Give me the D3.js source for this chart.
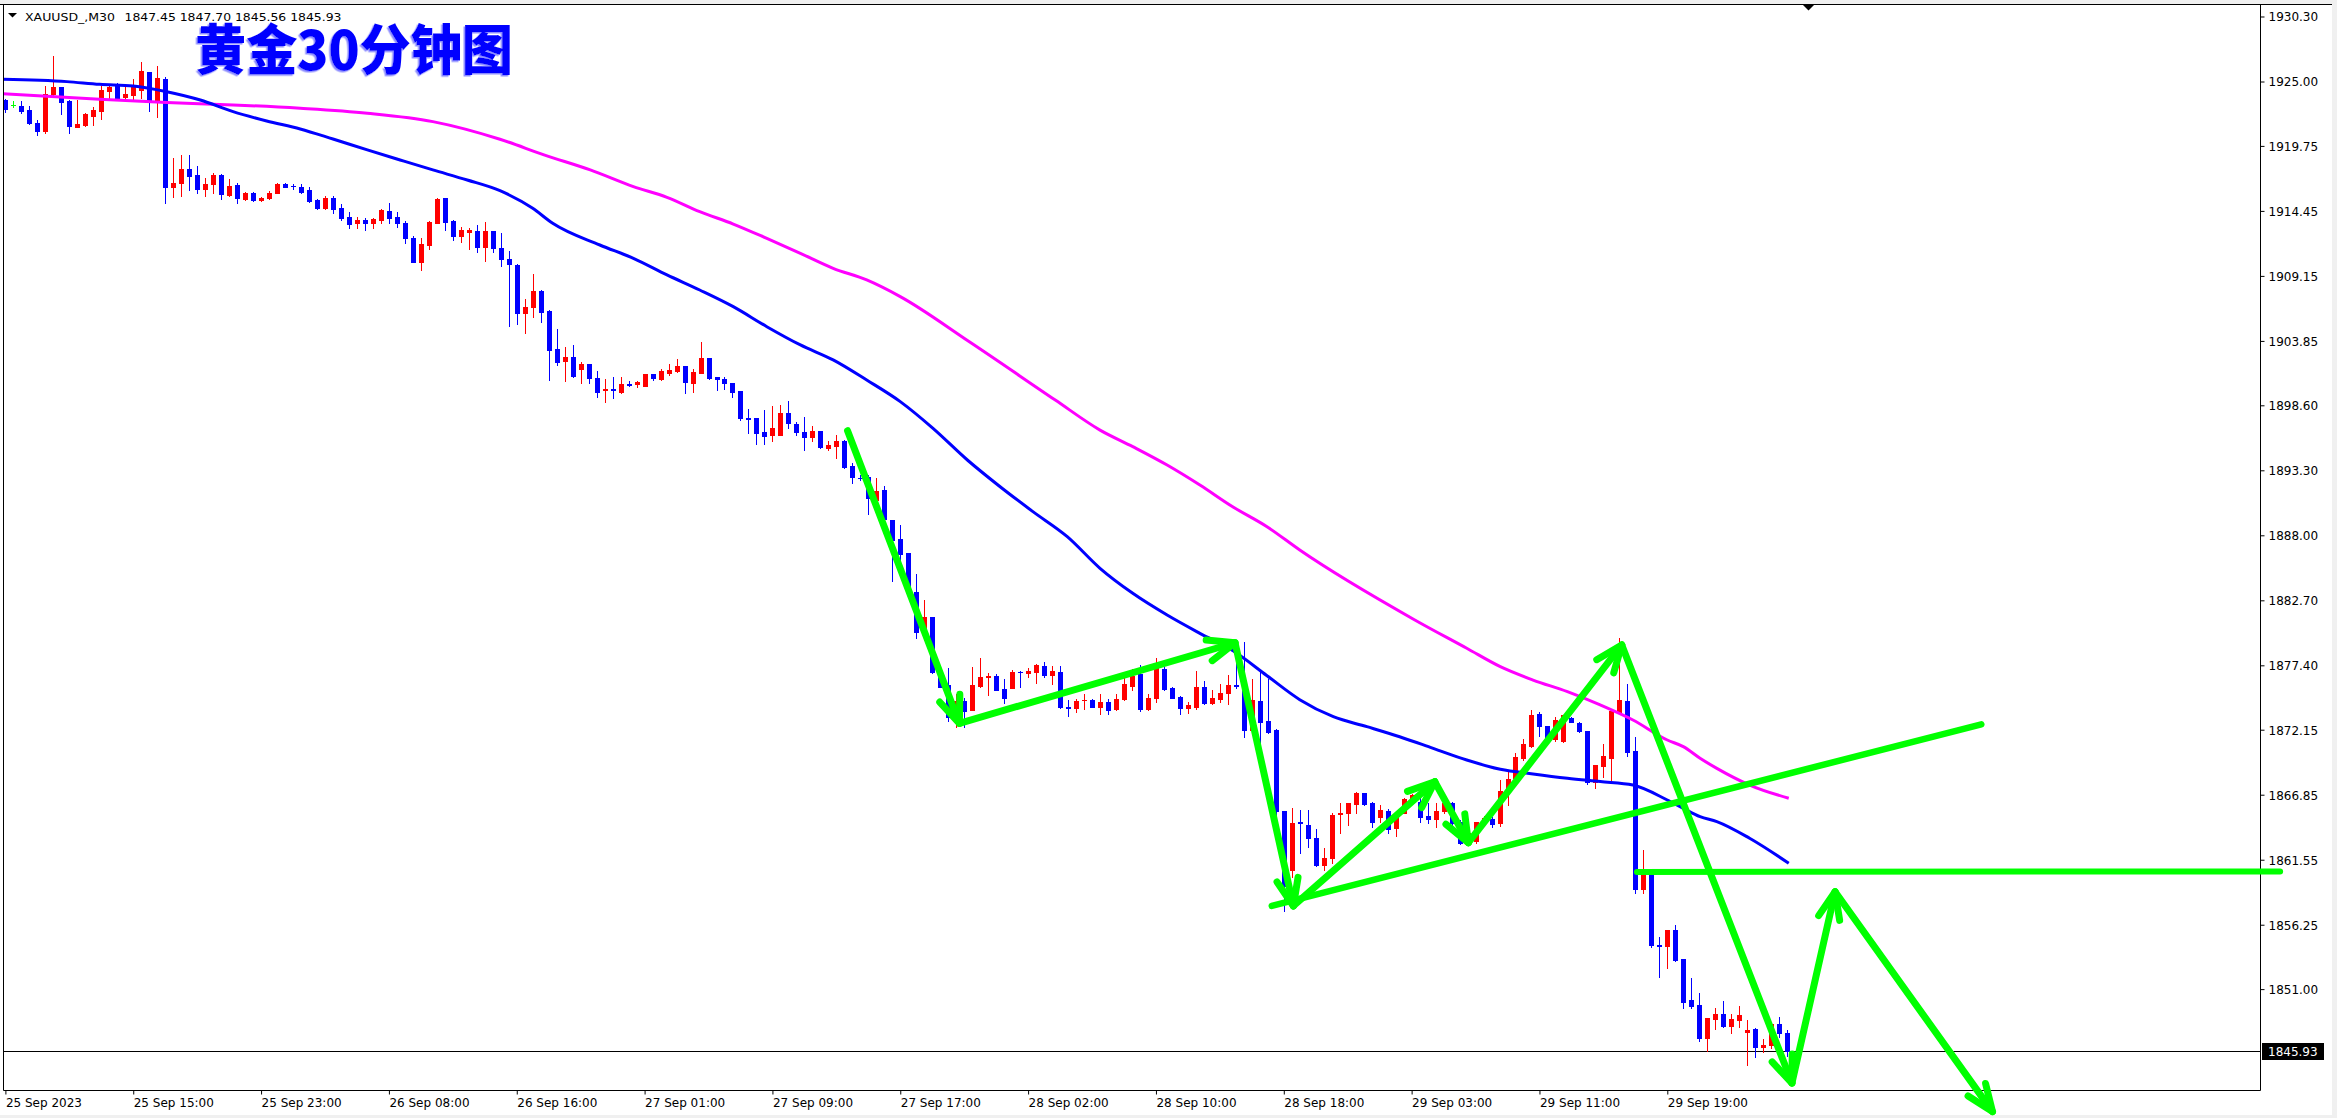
<!DOCTYPE html>
<html><head><meta charset="utf-8">
<script src="https://cdn.jsdelivr.net/npm/d3@7"></script>
<style>html,body{margin:0;padding:0;background:#f0f0f0;overflow:hidden}svg{display:block}</style>
</head><body><svg id="c" width="2337" height="1118"></svg>
<script>
// ---------- DATA ----------
const symbolLabel = "XAUUSD_,M30";
const ohlcLabel = "1847.45 1847.70 1845.56 1845.93";
const titleText = "黄金30分钟图";
const lastPrice = 1845.93;

const opens = [
1923.49,1923.09,1923.00,1922.68,1921.59,1920.97,1924.00,1924.53,1923.41,1921.27,
1921.46,1922.22,1922.60,1924.25,1924.80,1923.77,1923.90,1924.31,1925.78,1923.36,
1925.18,1916.37,1916.70,1917.87,1917.38,1916.21,1916.62,1917.38,1915.78,1916.57,
1915.42,1915.89,1915.34,1915.53,1915.94,1916.65,1916.50,1916.43,1916.16,1915.34,
1914.66,1915.53,1914.66,1913.93,1913.44,1913.71,1913.49,1913.71,1914.45,1913.98,
1913.49,1912.21,1910.31,1911.67,1913.49,1915.48,1913.63,1912.43,1912.76,1912.81,
1911.54,1912.81,1911.40,1910.50,1910.04,1906.10,1906.64,1907.92,1906.29,1903.19,
1902.24,1902.51,1901.53,1901.94,1900.80,1899.82,1899.90,1899.71,1900.33,1900.31,
1900.20,1901.15,1900.72,1901.20,1901.40,1901.80,1900.45,1901.26,1902.43,1900.88,
1900.72,1900.39,1899.80,1897.56,1897.54,1896.40,1896.18,1896.18,1897.95,1897.08,
1896.40,1895.99,1896.51,1895.15,1895.31,1895.69,1893.65,1892.70,1892.78,1890.88,
1891.69,1889.25,1887.67,1886.53,1883.40,1880.14,1881.37,1876.88,1875.80,1873.21,
1874.52,1873.76,1875.72,1876.45,1876.53,1875.45,1875.58,1876.88,1876.75,1876.88,
1877.35,1876.61,1876.83,1874.00,1873.90,1874.55,1874.57,1874.03,1874.38,1873.84,
1874.63,1875.72,1876.69,1873.81,1874.76,1877.07,1875.53,1874.79,1873.90,1874.03,
1875.61,1874.30,1874.63,1875.12,1875.77,1875.72,1872.13,1874.52,1872.89,1872.13,
1865.50,1860.72,1864.62,1864.38,1863.30,1861.12,1861.67,1865.30,1865.33,1866.07,
1866.97,1866.15,1865.00,1865.52,1864.11,1865.39,1866.28,1866.28,1865.12,1864.84,
1865.55,1866.15,1864.65,1863.00,1863.08,1864.52,1864.84,1864.52,1867.15,1868.20,
1869.82,1870.82,1873.40,1872.45,1871.40,1871.26,1873.08,1872.67,1872.05,1867.90,
1869.22,1869.87,1873.62,1874.49,1870.41,1859.14,1860.31,1854.57,1854.55,1855.82,
1853.43,1850.12,1849.71,1846.99,1848.54,1848.98,1848.03,1848.49,1847.48,1847.73,
1846.26,1846.45,1848.14,1847.45];
const highs = [
1923.55,1923.44,1923.41,1923.00,1921.86,1924.63,1927.08,1924.53,1923.49,1923.49,
1922.46,1922.90,1924.66,1924.77,1924.90,1924.72,1925.18,1926.62,1925.78,1926.27,
1925.34,1918.74,1919.01,1919.01,1918.11,1917.11,1917.57,1917.46,1917.03,1916.70,
1916.02,1916.02,1915.61,1916.10,1916.75,1916.70,1916.62,1916.62,1916.43,1915.40,
1915.70,1915.70,1915.02,1914.39,1913.98,1913.85,1913.85,1914.58,1915.07,1914.34,
1913.65,1912.40,1912.21,1913.65,1915.48,1915.48,1913.71,1913.11,1913.03,1913.30,
1913.57,1912.84,1912.68,1911.18,1910.10,1907.24,1909.30,1908.00,1906.37,1904.82,
1903.38,1903.52,1902.16,1901.97,1901.40,1900.72,1900.88,1900.88,1900.61,1900.61,
1901.15,1901.15,1901.53,1901.94,1902.35,1901.80,1901.53,1903.73,1902.43,1900.93,
1900.88,1900.39,1899.80,1898.30,1897.54,1898.22,1898.57,1898.63,1898.95,1897.27,
1897.62,1896.91,1896.51,1895.69,1896.18,1895.77,1893.87,1892.92,1892.92,1892.64,
1892.02,1889.25,1888.84,1886.58,1884.85,1882.73,1881.37,1877.15,1877.15,1875.10,
1874.70,1877.30,1878.02,1876.75,1876.69,1876.26,1877.02,1876.94,1877.15,1877.51,
1877.70,1877.35,1877.35,1874.57,1874.65,1875.06,1874.65,1875.06,1874.65,1875.06,
1876.69,1877.07,1877.43,1875.06,1877.97,1877.29,1875.66,1874.93,1874.44,1876.96,
1876.15,1875.39,1875.88,1876.61,1877.78,1879.33,1876.26,1876.88,1876.26,1872.20,
1865.50,1865.74,1865.60,1865.60,1864.03,1862.48,1865.33,1866.15,1866.20,1867.05,
1867.02,1866.28,1866.00,1865.66,1865.20,1866.56,1866.90,1866.69,1866.15,1866.15,
1866.30,1866.28,1864.79,1863.90,1864.65,1865.10,1865.06,1868.05,1868.87,1870.28,
1871.37,1873.76,1873.60,1872.45,1873.20,1873.35,1873.16,1872.81,1872.05,1869.27,
1870.99,1873.81,1879.60,1875.88,1871.58,1862.35,1860.31,1855.28,1855.82,1856.23,
1853.43,1851.88,1850.66,1848.68,1849.44,1850.06,1848.98,1849.63,1848.49,1847.80,
1846.91,1848.14,1848.76,1847.70];
const lows = [
1922.54,1922.90,1922.46,1921.54,1920.64,1920.83,1923.90,1922.35,1920.83,1921.27,
1921.38,1921.46,1921.95,1923.49,1923.55,1923.49,1923.44,1923.68,1922.60,1922.14,
1915.07,1915.61,1915.70,1916.16,1915.88,1915.67,1915.88,1915.42,1915.67,1915.07,
1915.34,1915.29,1915.29,1915.42,1915.89,1916.37,1916.27,1915.89,1915.20,1914.58,
1914.58,1914.26,1913.71,1913.03,1913.03,1912.90,1913.03,1913.44,1913.44,1913.17,
1911.81,1910.25,1909.63,1911.37,1913.44,1912.89,1912.08,1911.94,1911.37,1911.13,
1910.40,1911.07,1909.98,1905.09,1905.23,1904.47,1905.80,1905.42,1900.66,1901.89,
1900.61,1900.88,1900.45,1900.45,1899.31,1898.90,1899.23,1899.58,1900.20,1900.12,
1900.20,1900.66,1900.66,1901.07,1901.29,1899.63,1899.71,1901.26,1900.72,1899.85,
1899.93,1899.31,1897.40,1896.37,1895.45,1895.45,1895.72,1896.18,1896.72,1896.18,
1894.95,1895.72,1895.10,1894.95,1894.33,1893.46,1892.29,1892.51,1889.74,1890.61,
1889.25,1884.30,1885.71,1883.35,1879.60,1879.46,1876.75,1875.60,1872.89,1872.40,
1872.40,1873.76,1875.60,1874.98,1875.39,1874.36,1875.53,1875.66,1876.42,1875.99,
1876.42,1875.88,1873.90,1873.27,1873.62,1873.84,1873.98,1873.43,1873.43,1873.76,
1874.57,1875.39,1873.70,1873.76,1874.44,1875.39,1874.71,1873.43,1873.49,1873.81,
1874.25,1874.25,1874.44,1874.25,1875.53,1871.58,1871.90,1871.04,1871.90,1865.00,
1857.40,1860.17,1862.07,1862.62,1861.07,1860.72,1861.31,1863.70,1864.38,1865.39,
1866.01,1864.25,1864.65,1863.70,1863.49,1865.33,1866.20,1864.60,1864.52,1864.25,
1865.40,1864.11,1862.83,1862.80,1862.89,1864.30,1864.20,1864.30,1866.01,1868.20,
1869.68,1870.71,1871.67,1871.40,1871.20,1871.18,1872.75,1871.99,1867.72,1867.37,
1868.27,1867.90,1873.62,1870.01,1858.81,1858.81,1854.46,1851.96,1852.70,1853.32,
1849.44,1849.44,1846.80,1845.99,1847.73,1847.89,1847.45,1847.89,1844.82,1845.44,
1845.90,1846.18,1847.13,1845.56];
const closes = [
1922.73,1923.09,1922.60,1921.59,1920.99,1923.98,1924.53,1923.36,1921.40,1921.54,
1922.35,1922.68,1924.31,1924.53,1923.63,1923.98,1924.58,1925.86,1923.36,1925.26,
1916.43,1916.75,1917.87,1917.33,1916.21,1916.65,1917.38,1915.80,1916.48,1915.48,
1915.89,1915.34,1915.50,1915.94,1916.65,1916.43,1916.48,1916.02,1915.29,1914.66,
1915.48,1914.61,1913.90,1913.36,1913.71,1913.44,1913.77,1914.53,1913.85,1913.44,
1912.21,1910.31,1911.75,1913.57,1915.39,1913.57,1912.43,1912.89,1912.89,1911.54,
1912.81,1911.40,1910.50,1910.09,1906.10,1906.64,1907.92,1906.24,1903.11,1902.16,
1902.51,1900.99,1901.94,1900.80,1899.71,1899.90,1899.85,1900.31,1900.28,1900.47,
1901.15,1900.80,1901.40,1901.48,1901.80,1900.53,1901.34,1902.43,1900.85,1900.72,
1900.39,1899.71,1897.54,1897.51,1896.37,1896.13,1896.72,1897.95,1897.13,1896.45,
1895.99,1896.51,1895.23,1895.37,1895.69,1893.54,1892.78,1892.65,1891.01,1891.64,
1889.30,1887.62,1886.47,1883.40,1880.14,1881.37,1876.88,1875.66,1873.21,1874.50,
1873.70,1875.80,1876.48,1876.50,1875.39,1874.76,1876.88,1876.83,1876.97,1877.43,
1876.61,1876.94,1873.98,1873.95,1874.50,1874.60,1874.03,1874.38,1873.76,1874.65,
1875.88,1876.53,1873.81,1874.71,1877.15,1875.45,1874.76,1873.90,1874.17,1875.61,
1874.30,1874.71,1875.12,1875.80,1875.72,1872.13,1874.57,1872.81,1871.99,1865.50,
1859.40,1864.52,1864.57,1863.30,1861.12,1861.67,1865.20,1865.35,1866.15,1866.97,
1866.07,1864.60,1865.60,1864.03,1865.06,1866.47,1866.83,1865.06,1864.84,1865.52,
1866.15,1864.52,1862.90,1863.70,1864.60,1864.93,1864.46,1867.15,1868.13,1869.95,
1870.99,1873.35,1872.45,1871.45,1872.94,1873.35,1872.81,1872.07,1867.90,1869.27,
1870.01,1873.70,1874.57,1870.36,1859.14,1860.77,1854.60,1854.52,1855.82,1853.38,
1849.98,1849.65,1847.05,1848.68,1848.98,1848.00,1848.57,1848.90,1847.67,1846.26,
1846.45,1848.14,1847.40,1845.93];

// Moving averages: [bar index, price]
const blueMA = [
[-0.3,1925.18],[7.7,1924.99],[11.8,1924.77],[16.0,1924.64],[20.2,1924.17],[24.4,1923.49],[28.5,1922.54],
[32.7,1921.78],[36.9,1921.13],[41.0,1920.31],[45.3,1919.42],[49.4,1918.60],[53.5,1917.79],[57.8,1916.97],
[61.9,1916.10],[66.0,1914.66],[68.5,1913.44],[74.4,1911.67],[78.6,1910.58],[82.8,1909.23],[86.9,1908.00],
[91.1,1906.64],[95.3,1905.01],[99.5,1903.52],[103.6,1902.30],[107.8,1900.66],[112.0,1898.90],[116.1,1896.72],
[120.4,1894.14],[124.5,1891.96],[128.6,1889.93],[132.9,1887.89],[137.0,1885.31],[141.1,1883.27],[145.4,1881.50],
[149.5,1880.01],[153.6,1878.60],[157.9,1876.55],[162.0,1874.60],[166.2,1873.21],[170.4,1872.40],[174.5,1871.58],
[178.7,1870.63],[182.9,1869.68],[187.1,1868.92],[191.2,1868.54],[195.5,1868.19],[199.6,1867.92],[203.7,1867.64],
[208.0,1866.42],[210.0,1865.74],[212.1,1865.06],[214.2,1864.66],[218.3,1863.30],[223.2,1861.26]];
const magentaMA = [
[-0.3,1924.01],[11.8,1923.55],[20.2,1923.28],[28.5,1923.09],[36.9,1922.81],[45.3,1922.41],[53.5,1921.73],
[61.9,1920.29],[67.5,1919.00],[73.2,1917.79],[78.6,1916.43],[82.8,1915.56],[86.9,1914.39],[91.1,1913.38],
[95.3,1912.21],[99.5,1910.99],[103.6,1909.77],[107.8,1908.82],[112.0,1907.46],[120.6,1903.80],[131.4,1899.03],
[137.0,1896.58],[141.1,1895.23],[145.4,1893.73],[149.5,1892.10],[153.6,1890.33],[157.9,1888.70],[162.0,1886.80],
[176.4,1881.10],[182.9,1878.79],[187.1,1877.29],[191.2,1876.20],[195.5,1875.25],[199.6,1874.17],[203.7,1872.94],
[208.0,1871.31],[210.0,1870.77],[212.1,1869.82],[214.2,1869.00],[218.3,1867.64],[223.2,1866.56]];

// Hand-drawn annotations: [bar index, price]
const zigzag = [[105.4,1896.53],[119.4,1872.67],[153.9,1879.24],[161.2,1857.78],[178.9,1867.91],
                [183.1,1862.94],[202.3,1879.06],[223.6,1843.34],[229.0,1858.94],[248.7,1841.01]];
const trendLine = [[158.5,1857.78],[247.3,1872.59]];
const levelLine = [[204.2,1860.55],[284.7,1860.60]];

// Axes
const priceTicks = [1930.30,1925.00,1919.75,1914.45,1909.15,1903.85,1898.60,1893.30,1888.00,
                    1882.70,1877.40,1872.15,1866.85,1861.55,1856.25,1851.00];
const timeTickBars = [0,16,32,48,64,80,96,112,128,144,160,176,192,208];
const timeTickLabels = ["25 Sep 2023","25 Sep 15:00","25 Sep 23:00","26 Sep 08:00","26 Sep 16:00",
  "27 Sep 01:00","27 Sep 09:00","27 Sep 17:00","28 Sep 02:00","28 Sep 10:00","28 Sep 18:00",
  "29 Sep 03:00","29 Sep 11:00","29 Sep 19:00"];

// ---------- DRAW ----------
const W = 2337, H = 1118;
const P = {left:3, top:4, right:2260, bottom:1090};
const svg = d3.select('#c');
const FONT = "'DejaVu Sans', Verdana, sans-serif";

svg.append('rect').attr('width',W).attr('height',H).attr('fill','#f0f0f0');
svg.append('rect').attr('x',0).attr('y',4).attr('width',2332).attr('height',1111).attr('fill','#ffffff');

const x = d3.scaleLinear().domain([0,208]).range([5.4,1667.3]);
const y = d3.scaleLinear().domain([1842.775,1931.319]).range([P.bottom,P.top]);

const defs = svg.append('defs');
defs.append('clipPath').attr('id','clip')
  .append('rect').attr('x',P.left).attr('y',P.top).attr('width',P.right-P.left).attr('height',P.bottom-P.top);
defs.append('filter').attr('id','tshadow').attr('x','-5%').attr('y','-10%').attr('width','110%').attr('height','130%')
  .append('feDropShadow').attr('dx',-1.5).attr('dy',1.5).attr('stdDeviation',0.4)
  .attr('flood-color','#8c8cff').attr('flood-opacity',1);

// price line
const yp = Math.round(y(lastPrice))+0.5;
svg.append('line').attr('x1',P.left).attr('x2',P.right).attr('y1',yp).attr('y2',yp)
  .attr('stroke','#000').attr('stroke-width',1);

// candles
const gc = svg.append('g').attr('clip-path','url(#clip)').attr('shape-rendering','crispEdges');
const bars = d3.range(opens.length).map(i=>({i,o:opens[i],h:highs[i],l:lows[i],c:closes[i]}));
bars.forEach(b=>{
  const cx = Math.round(x(b.i));
  const col = b.c>b.o ? '#ff0000' : (b.c<b.o ? '#0000ff' : '#00ff00');
  const yh = Math.round(y(b.h)), yl = Math.round(y(b.l));
  gc.append('rect').attr('x',cx).attr('y',yh).attr('width',1).attr('height',Math.max(1,yl-yh+1)).attr('fill',col);
  const yt = Math.round(y(Math.max(b.o,b.c))), yb = Math.round(y(Math.min(b.o,b.c)));
  gc.append('rect').attr('x',cx-2).attr('y',yt).attr('width',5).attr('height',Math.max(1,yb-yt+1)).attr('fill',col);
});

// moving averages
const line = d3.line().x(d=>x(d[0])).y(d=>y(d[1])).curve(d3.curveMonotoneX);
const gm = svg.append('g').attr('clip-path','url(#clip)');
gm.append('path').datum(magentaMA).attr('d',line).attr('fill','none').attr('stroke','#ff00ff').attr('stroke-width',3);
gm.append('path').datum(blueMA).attr('d',line).attr('fill','none').attr('stroke','#0000ff').attr('stroke-width',3);

// frame
svg.append('line').attr('x1',0).attr('x2',2332).attr('y1',4.5).attr('y2',4.5).attr('stroke','#000');
svg.append('path').attr('d',`M${P.left+0.5},${P.top} V${P.bottom+0.5} H${P.right+0.5} V${P.top}`)
  .attr('fill','none').attr('stroke','#000');

// axes
const yAxis = d3.axisRight(y).tickValues(priceTicks).tickSize(4).tickPadding(4).tickFormat(d3.format('.2f'));
const gy = svg.append('g').attr('transform',`translate(${P.right+0.5},0)`).call(yAxis)
  .attr('font-family',FONT).attr('font-size',12);
gy.select('.domain').remove();
gy.selectAll('text').attr('fill','#000').attr('dy','0.36em');

const xAxis = d3.axisBottom(x).tickValues(timeTickBars).tickSize(4)
  .tickFormat((d,i)=>timeTickLabels[i]);
const gx = svg.append('g').attr('transform',`translate(0,${P.bottom+0.5})`).call(xAxis)
  .attr('font-family',FONT).attr('font-size',12);
gx.select('.domain').remove();
gx.selectAll('text').attr('text-anchor','start').attr('x',0).attr('y',16.5).attr('dy',null).attr('fill','#000');

// last price label
svg.append('rect').attr('x',P.right+2).attr('y',yp-8.5).attr('width',62).attr('height',17).attr('fill','#000');
svg.append('text').attr('x',P.right+8).attr('y',yp).attr('dy','0.36em').attr('font-family',FONT)
  .attr('font-size',12).attr('fill','#fff').text(d3.format('.2f')(lastPrice));

// header
svg.append('path').attr('d','M8,13 L17,13 L12.5,17.5 Z').attr('fill','#000');
svg.append('text').attr('x',25).attr('y',20.5).attr('font-family',FONT).attr('font-size',11)
  .attr('textLength',90).attr('lengthAdjust','spacingAndGlyphs').attr('fill','#000').text(symbolLabel);
svg.append('text').attr('x',124.5).attr('y',20.5).attr('font-family',FONT).attr('font-size',11)
  .attr('textLength',217).attr('lengthAdjust','spacingAndGlyphs').attr('fill','#000').text(ohlcLabel);
// top shift marker
svg.append('path').attr('d','M1802,4 L1815,4 L1808.5,10.5 Z').attr('fill','#000');

// title
const TF = "'Noto Sans CJK SC', 'Noto Sans CJK JP', sans-serif";
svg.append('text').attr('x',195).attr('y',70).attr('font-family',TF).attr('font-weight',900)
  .attr('font-size',54).attr('textLength',318).attr('lengthAdjust','spacingAndGlyphs')
  .attr('fill','#0000ff').attr('filter','url(#tshadow)').text(titleText);

// annotations (green)
const ga = svg.append('g').attr('fill','none').attr('stroke','#00ff00').attr('stroke-width',7)
  .attr('stroke-linecap','round').attr('stroke-linejoin','round');
const straight = d3.line().x(d=>x(d[0])).y(d=>y(d[1]));
ga.append('path').datum(trendLine).attr('d',straight).attr('stroke-width',6.5);
ga.append('path').datum(levelLine).attr('d',straight).attr('stroke-width',6);
function arrowHead(p0,p1){
  const x0=x(p0[0]), y0=y(p0[1]), x1=x(p1[0]), y1=y(p1[1]);
  const a=Math.atan2(y0-y1,x0-x1), L=29, s=0.38;
  return `M${x1+L*Math.cos(a+s)},${y1+L*Math.sin(a+s)} L${x1},${y1} L${x1+L*Math.cos(a-s)},${y1+L*Math.sin(a-s)}`;
}
for(let k=0;k<zigzag.length-1;k++){
  ga.append('path').datum([zigzag[k],zigzag[k+1]]).attr('d',straight);
  ga.append('path').attr('d',arrowHead(zigzag[k],zigzag[k+1]));
}
</script></body></html>
